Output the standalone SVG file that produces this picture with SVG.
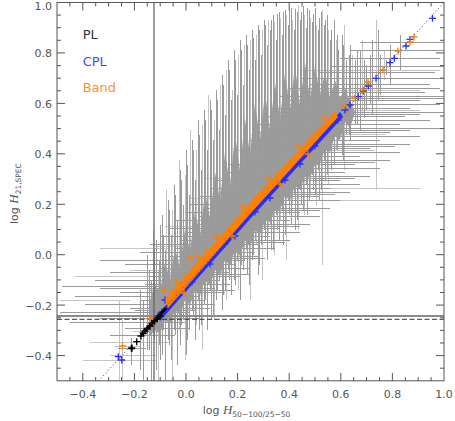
<svg xmlns="http://www.w3.org/2000/svg" width="455" height="421" viewBox="0 0 455 421">
<style>
.t{font-family:"DejaVu Sans","Liberation Sans",sans-serif;font-size:11px;fill:#555}
.eb{fill:none;stroke:#9a9a9a;stroke-width:1;shape-rendering:crispEdges}
.eb2{fill:none;stroke:#c4c4c4;stroke-width:1;shape-rendering:crispEdges}
.ax{fill:none;stroke:#555;stroke-width:1}
.pk{fill:none;stroke-width:1.3}
</style>
<rect width="455" height="421" fill="#fff"/>
<g id="errorbars">
<path class="eb2" d="M119 300V381M122 320V381M153 230V335M158 270V381M166 190V320M172 210V381M179 160V330M185 175V360M190 130V300M196 150V325M202 125V350M208 95V285M214 120V320M220 85V265M226 70V300M232 90V255M238 55V290M244 45V260M250 40V300M256 35V245M262 30V280M268 20V235M274 22V255M280 18V220M286 15V260M292 20V205M298 5V230M304 15V215M310 18V195M316 25V205M322 10V265M328 30V185M336 40V150M344 25V170M352 55V120M362 40V115M376 20V190M384 50V80M83 360H157M110 355H157M115 346H140M133 331H160M113 296H160M90 342H170M130 270H215M155 246H245M165 226H285M190 198H300M205 178H330M300 188H420M320 200H400M235 150H375M250 134H385M270 110H420M285 90H420M300 70H440M60 300H130M75 276H150M100 248H170"/>
<polygon fill="#9c9c9c" points="150,300 155,285 160,292 165,262 170,280 175,248 180,268 185,228 190,252 195,210 200,236 205,192 210,218 215,172 220,200 225,152 230,186 235,134 240,170 245,118 250,155 255,102 260,140 265,92 270,130 275,82 280,120 285,72 290,110 295,66 300,105 305,62 310,100 315,66 320,95 325,72 330,98 335,80 340,98 345,88 350,102 355,112 350,128 345,122 340,140 335,136 330,152 325,150 320,163 315,165 310,178 305,176 300,190 295,186 290,200 285,196 280,210 275,210 270,222 265,220 260,235 255,230 250,246 245,240 240,256 235,250 230,266 225,260 220,276 215,270 210,286 205,280 200,296 195,290 190,305 185,300 180,315 175,310 170,325 165,320 160,334 155,330 150,336"/>
<path class="eb" d="M140 290V370M143 300V381M147 255V350M151 280V381M156 240V370M159 260V345M162 215V355M165 250V380M168 200V340M171 235V360M174 185V330M177 220V365M180 170V345M183 205V320M186 150V355M189 195V330M192 140V310M195 180V340M198 120V300M201 170V325M204 110V305M207 150V330M210 100V290M213 140V315M216 90V300M219 130V280M222 75V310M225 115V290M228 60V270M231 100V295M234 50V280M237 95V260M240 40V300M243 85V270M246 35V250M249 70V285M252 30V260M255 60V240M258 25V275M261 55V245M264 20V230M267 45V260M270 30V225M273 15V250M276 40V215M279 12V240M282 35V210M285 10V235M288 25V200M291 8V225M294 30V195M297 12V220M300 20V190M303 6V210M306 28V185M309 10V200M312 22V175M315 8V195M318 30V170M321 12V190M324 25V160M327 15V175M330 40V150M334 20V165M338 50V140M342 35V155M346 60V135M350 45V140M355 60V125M360 50V130M366 65V110M372 40V115M380 55V95M390 45V85M400 35V70M131.7 338V365M118 348H146"/>
<path class="eb" d="M149 270V350M154 250V340M160 225V360M163 235V330M169 210V345M175 195V335M181 180V325M187 165V340M193 150V315M199 135V330M205 120V300M211 110V320M217 100V290M223 85V295M229 70V280M235 60V285M241 50V265M247 45V275M253 38V255M259 30V265M265 25V240M271 20V250M277 14V230M283 12V245M289 10V215M295 9V230M301 12V205M307 8V215M313 14V190M319 18V200M325 20V180M331 30V170M337 35V150M343 45V160M349 55V135M357 50V125M364 60V118M370 55V105M378 30V100M386 60V75"/>
<path class="eb" d="M110 335H175M125 328H190M70 322H185M100 318H200M60 312H190M130 308H210M85 304H215M140 300H205M75 296H200M120 292H225M100 288H215M62 286H180M145 284H230M95 280H220M150 276H240M110 272H230M160 268H250M125 264H235M100 260H245M170 256H260M140 252H255M175 248H275M150 244H260M180 240H290M160 236H270M185 232H300M170 228H280M195 224H310M175 220H290M200 216H320M185 212H300M205 208H330M190 204H305M215 200H340M200 196H320M220 192H350M210 188H330M225 184H360M215 180H340M235 176H370M225 172H345M240 168H380M230 164H355M250 160H390M240 156H360M255 152H400M245 148H370M260 144H410M250 140H380M265 136H420M255 132H390M270 128H444M260 124H400M275 120H430M265 116H405M280 112H444M270 108H410M285 104H440M290 100H420M280 96H444M300 92H425M290 88H440M310 84H430M300 78H444M320 72H435M330 66H444M340 58H440M350 50H444M360 42H444M135 310H195M150 290H235M165 274H250M180 258H265M195 242H285M205 226H300M215 210H320M230 194H335M240 178H355M255 162H375M265 146H395M280 130H410M295 114H420M305 98H444"/>
</g>
<g id="lines">
<line x1="57" y1="316" x2="444" y2="316" stroke="#8c8c8c" stroke-width="2"/>
<line x1="57" y1="319.3" x2="444" y2="319.3" stroke="#333" stroke-width="1" stroke-dasharray="5 2.5"/>
<line x1="154" y1="2.5" x2="154" y2="381" stroke="#666" stroke-width="1.3"/>
</g>
<g id="points">
<polygon fill="#2b2bff" points="158,314 250,211 340,112 343,117 250,219 160,321"/>
<path class="pk" stroke="#2b2bff" d="M161.5 300h7M165 296.5v7M166.5 302h7M170 298.5v7M171.5 293h7M175 289.5v7M158.5 312h7M162 308.5v7M154.5 316h7M158 312.5v7M181.5 287h7M185 283.5v7M196.5 270h7M200 266.5v7M221.5 244h7M225 240.5v7M251.5 212h7M255 208.5v7M281.5 180h7M285 176.5v7M311.5 146h7M315 142.5v7M334.5 120h7M338 116.5v7M429 18.3h7M432.5 14.8v7M406.5 39.3h7M410 35.8v7M402.5 46h7M406 42.5v7M390.8 58.3h7M394.3 54.8v7M386.5 62.7h7M390 59.2v7M372.5 78.3h7M376 74.8v7M364.8 86h7M368.3 82.5v7M359.8 91h7M363.3 87.5v7M354.8 96.7h7M358.3 93.2v7M346.5 105h7M350 101.5v7M341.5 110h7M345 106.5v7M114.8 356.7h7M118.3 353.2v7M118.2 360h7M121.7 356.5v7M188.5 282h7M192 278.5v7M206.5 264h7M210 260.5v7M231.5 236h7M235 232.5v7M266.5 198h7M270 194.5v7M296.5 164h7M300 160.5v7"/>
<polygon fill="#ff8000" points="165,300 250,203 335,112 338,117 250,214 168,308"/>
<path class="pk" stroke="#ff8000" d="M168.5 292h7M172 288.5v7M176.5 285h7M180 281.5v7M182.5 276h7M186 272.5v7M189.5 270h7M193 266.5v7M196.5 262h7M200 258.5v7M203.5 252h7M207 248.5v7M210.5 246h7M214 242.5v7M218.5 238h7M222 234.5v7M226.5 228h7M230 224.5v7M234.5 220h7M238 216.5v7M241.5 210h7M245 206.5v7M251.5 200h7M255 196.5v7M258.5 193h7M262 189.5v7M266.5 184h7M270 180.5v7M274.5 175h7M278 171.5v7M282.5 166h7M286 162.5v7M290.5 158h7M294 154.5v7M298.5 150h7M302 146.5v7M306.5 140h7M310 136.5v7M314.5 132h7M318 128.5v7M322.5 124h7M326 120.5v7M330.5 114h7M334 110.5v7M340.5 106h7M344 102.5v7M160.5 290h7M164 286.5v7M186.5 258h7M190 254.5v7M194.5 257h7M198 253.5v7M146.5 319h7M150 315.5v7M119 346h7M122.5 342.5v7M172.5 283h7M176 279.5v7M410.5 37h7M414 33.5v7M406.5 42h7M410 38.5v7M394.5 51h7M398 47.5v7M379.5 70h7M383 66.5v7M364.5 82h7M368 78.5v7M359.5 90h7M363 86.5v7M351.5 98h7M355 94.5v7M212.5 236h7M216 232.5v7M238.5 206h7M242 202.5v7M264.5 178h7M268 174.5v7M294.5 146h7M298 142.5v7M320.5 118h7M324 114.5v7M180.5 293h7M184 289.5v7M228.5 236h7M232 232.5v7M276.5 184h7M280 180.5v7M304.5 154h7M308 150.5v7"/>
<path stroke="#000" stroke-width="3" d="M141 335L166 308"/>
<path class="pk" stroke="#000" d="M133.2 341.7h7M136.7 338.2v7M139.8 333.3h7M143.3 329.8v7M143.5 329h7M147 325.5v7M146.5 326h7M150 322.5v7M148.5 323.5h7M152 320v7M151 321h7M154.5 317.5v7M153.5 319h7M157 315.5v7M156.5 316h7M160 312.5v7M137.5 336h7M141 332.5v7M141.5 331h7M145 327.5v7"/>
<path fill="none" stroke="#000" stroke-width="2" d="M128.2 348.3h7M131.7 344.8v7"/>
<line x1="98.5" y1="381" x2="444" y2="2.5" stroke="#444" stroke-width="1" stroke-dasharray="1 2.5"/>
</g>
<g id="axes">
<rect class="ax" x="57" y="2.5" width="387" height="378.3"/>
<path class="ax" d="M69.9 381v-4M95.7 381v-4M108.6 381v-4M121.5 381v-4M147.3 381v-4M160.2 381v-4M173.1 381v-4M198.9 381v-4M211.8 381v-4M224.7 381v-4M250.5 381v-4M263.4 381v-4M276.3 381v-4M302.1 381v-4M315 381v-4M327.9 381v-4M353.7 381v-4M366.6 381v-4M379.5 381v-4M405.3 381v-4M418.2 381v-4M431.1 381v-4M82.8 381v-8M134.4 381v-8M186 381v-8M237.6 381v-8M289.2 381v-8M340.8 381v-8M392.4 381v-8M69.9 2.5v4M95.7 2.5v4M108.6 2.5v4M121.5 2.5v4M147.3 2.5v4M160.2 2.5v4M173.1 2.5v4M198.9 2.5v4M211.8 2.5v4M224.7 2.5v4M250.5 2.5v4M263.4 2.5v4M276.3 2.5v4M302.1 2.5v4M315 2.5v4M327.9 2.5v4M353.7 2.5v4M366.6 2.5v4M379.5 2.5v4M405.3 2.5v4M418.2 2.5v4M431.1 2.5v4M82.8 2.5v8M134.4 2.5v8M186 2.5v8M237.6 2.5v8M289.2 2.5v8M340.8 2.5v8M392.4 2.5v8"/>
<path class="ax" d="M57 368.2h4M57 343h4M57 330.4h4M57 317.8h4M57 292.5h4M57 279.9h4M57 267.3h4M57 242.1h4M57 229.5h4M57 216.9h4M57 191.7h4M57 179h4M57 166.4h4M57 141.2h4M57 128.6h4M57 116h4M57 90.8h4M57 78.2h4M57 65.6h4M57 40.3h4M57 27.7h4M57 15.1h4M57 355.6h8M57 305.1h8M57 254.7h8M57 204.3h8M57 153.8h8M57 103.4h8M57 52.9h8M444 368.2h-4M444 343h-4M444 330.4h-4M444 317.8h-4M444 292.5h-4M444 279.9h-4M444 267.3h-4M444 242.1h-4M444 229.5h-4M444 216.9h-4M444 191.7h-4M444 179h-4M444 166.4h-4M444 141.2h-4M444 128.6h-4M444 116h-4M444 90.8h-4M444 78.2h-4M444 65.6h-4M444 40.3h-4M444 27.7h-4M444 15.1h-4M444 355.6h-8M444 305.1h-8M444 254.7h-8M444 204.3h-8M444 153.8h-8M444 103.4h-8M444 52.9h-8"/>
<g class="t" text-anchor="middle">
<text x="82.8" y="397.5">−0.4</text>
<text x="134.4" y="397.5">−0.2</text>
<text x="186" y="397.5">0.0</text>
<text x="237.6" y="397.5">0.2</text>
<text x="289.2" y="397.5">0.4</text>
<text x="340.8" y="397.5">0.6</text>
<text x="392.4" y="397.5">0.8</text>
<text x="444" y="397.5">1.0</text>
</g>
<g class="t" text-anchor="end">
<text x="52" y="10">1.0</text>
<text x="52" y="57.3">0.8</text>
<text x="52" y="107.8">0.6</text>
<text x="52" y="158.2">0.4</text>
<text x="52" y="208.7">0.2</text>
<text x="52" y="259.1">0.0</text>
<text x="52" y="309.5">−0.2</text>
<text x="52" y="360">−0.4</text>
</g>
<text class="t" x="202.7" y="414">log <tspan font-family="Liberation Serif,serif" font-style="italic" font-size="13">H</tspan><tspan font-size="7.5" dy="3">50−100/25−50</tspan></text>
<text class="t" transform="translate(18,224) rotate(-90)">log <tspan font-family="Liberation Serif,serif" font-style="italic" font-size="13">H</tspan><tspan font-size="7.5" dy="3">21,SPEC</tspan></text>
</g>
<g id="legend" font-family="DejaVu Sans,Liberation Sans,sans-serif" font-size="13">
<text x="82.7" y="39.3" fill="#333">PL</text>
<text x="82.7" y="66" fill="#4747ff">CPL</text>
<text x="82.7" y="91.7" fill="#ff8f33">Band</text>
</g>
</svg>
